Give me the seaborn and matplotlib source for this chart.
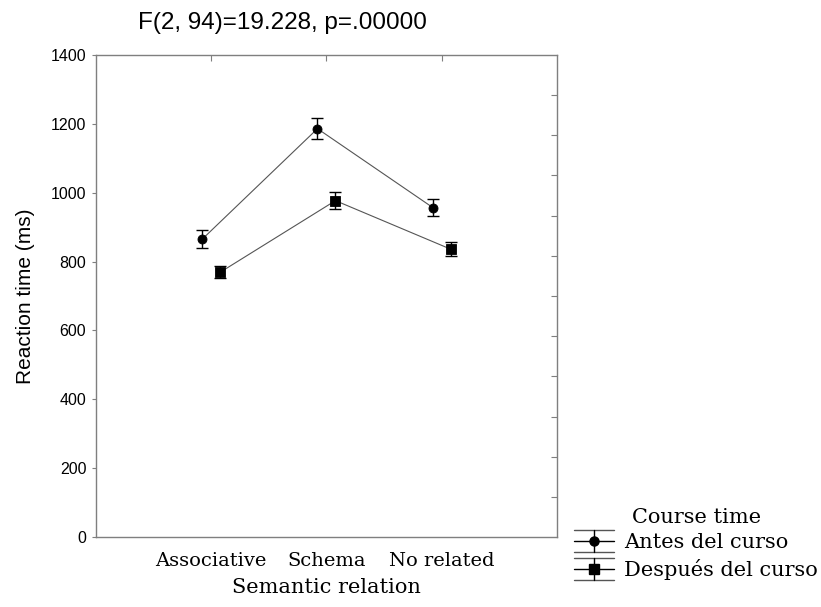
import numpy as np
import pandas as pd
import matplotlib
matplotlib.use("Agg")
import matplotlib.pyplot as plt
import seaborn as sns
from matplotlib.lines import Line2D
from matplotlib.legend_handler import HandlerBase
from matplotlib.ticker import FixedLocator

relations = ['Associative', 'Schema', 'No related']
courses = ['Antes del curso', 'Después del curso']
antes_mean = [865, 1186, 957]
antes_se = [27, 31, 25]
despues_mean = [769, 977, 836]
despues_se = [18, 24, 20]
y_ticks = [0, 200, 400, 600, 800, 1000, 1200, 1400]

df = pd.DataFrame({
    'relation': relations * 2,
    'course': [courses[0]] * 3 + [courses[1]] * 3,
    'rt': antes_mean + despues_mean,
    'se': antes_se + despues_se,
})

sns.set_style("white")
SANS = 'Liberation Sans'
SERIF = 'DejaVu Serif'
plt.rcParams['font.family'] = [SANS, 'DejaVu Sans']
for k in ['text.color', 'axes.labelcolor', 'xtick.color', 'ytick.color']:
    plt.rcParams[k] = 'black'

fig = plt.figure(figsize=(8.21, 6.07), dpi=100)
ax = fig.add_axes([0.1169, 0.1153, 0.5615, 0.7941])

markers = ['o', 's']
sns.pointplot(data=df, x='relation', y='rt', hue='course', order=relations,
              hue_order=courses, palette=['black', 'black'], markers=markers,
              linestyles='-', dodge=0.156, errorbar=None, legend=False,
              markersize=6.5, linewidth=0.8, ax=ax)

hue_lines = list(ax.lines)
for line, c in zip(hue_lines, courses):
    line.set_color('#555555')
    line.set_markerfacecolor('black')
    line.set_markeredgecolor('black')
    line.set_zorder(4)
    sub = df[df['course'] == c]
    ax.errorbar(line.get_xdata(), sub['rt'], yerr=sub['se'], fmt='none',
                ecolor='black', elinewidth=1, capsize=4.3, capthick=1, zorder=3)

ax.set_xlim(-1, 3)
ax.set_ylim(0, 1400)
ax.set_yticks(y_ticks)
ax.set_yticklabels([str(v) for v in y_ticks], fontsize=11.5, family=SANS)
ax.set_xticks(range(len(relations)))
ax.set_xticklabels(relations, fontsize=14, family=SERIF)
ax.tick_params(axis='x', bottom=False, top=True, direction='in', length=4,
               width=0.8, color='#7f7f7f', pad=11)
ax.tick_params(axis='y', which='major', left=True, right=False,
               direction='out', length=3, width=0.8, color='#7f7f7f', pad=4)
ax.yaxis.set_minor_locator(FixedLocator(np.linspace(0, 1400, 13)))
ax.tick_params(axis='y', which='minor', left=False, right=True,
               direction='in', length=4, width=0.8, color='#7f7f7f')

for s in ax.spines.values():
    s.set_color('#7f7f7f')
    s.set_linewidth(1)

ax.set_xlabel('Semantic relation', fontsize=15, family=SERIF)
ax.xaxis.set_label_coords(0.5, -0.085)
ax.set_ylabel('Reaction time (ms)', fontsize=15, family=SANS)
ax.yaxis.set_label_coords(-0.132, 0.5)

fig.text(0.344, 0.962, 'F(2, 94)=19.228, p=.00000', fontsize=17.5,
         family=SANS, ha='center', va='center')


class ErrHandle(HandlerBase):
    def create_artists(self, legend, orig_handle, xdescent, ydescent,
                       width, height, fontsize, trans):
        x0 = -xdescent
        x1 = x0 + width
        xc = (x0 + x1) / 2
        ym = -ydescent + height / 2
        h = height * 0.75
        arts = [
            Line2D([x0, x1], [ym + h, ym + h], color='#555555', lw=1),
            Line2D([x0, x1], [ym - h, ym - h], color='#555555', lw=1),
            Line2D([x0, x1], [ym, ym], color='black', lw=1),
            Line2D([xc, xc], [ym - h, ym + h], color='black', lw=1),
            Line2D([xc], [ym], marker=orig_handle.get_marker(), ms=6.5,
                   color='black', lw=0),
        ]
        for a in arts:
            a.set_transform(trans)
        return arts


handles = [Line2D([], [], marker=m, color='black') for m in markers]
leg = fig.legend(handles, courses, loc='upper left',
                 bbox_to_anchor=(0.687, 0.181), frameon=False, borderpad=0,
                 handlelength=1.9, handletextpad=0.5, labelspacing=0.32,
                 title='Course time',
                 prop={'family': SERIF, 'size': 15},
                 title_fontproperties={'family': SERIF, 'size': 15},
                 handler_map={Line2D: ErrHandle()})

fig.savefig('out.png', dpi=100)
